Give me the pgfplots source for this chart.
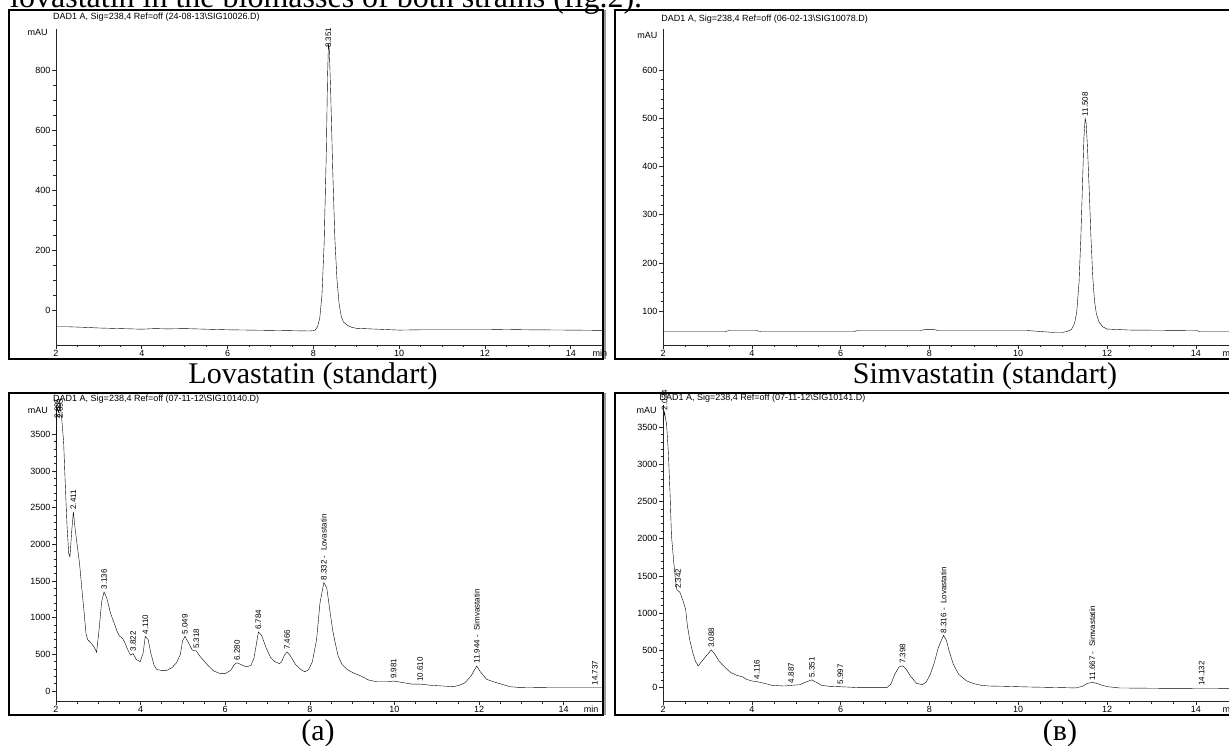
\documentclass[border=0pt]{standalone}
\usepackage{fontspec}
\setmainfont{Liberation Serif}
\newfontfamily\arial{Liberation Sans}
\newfontfamily\cambria{Liberation Serif}
\usepackage{pgfplots}
\pgfplotsset{compat=1.18}
\newcommand\chf{\arial\fontsize{9}{10}\selectfont}
\newcommand\pkf{\arial\fontsize{8}{9}\selectfont}
\newcommand\capf{\fontsize{30}{34}\selectfont}

\pgfplotsset{
  chromo/.style={
    scale only axis, anchor=south west,
    axis x line=bottom, axis y line=left,
    axis line style={-, line width=0.7pt, black!85},
    tick align=outside, major tick length=4pt, minor tick length=2.5pt,
    every tick/.style={black!85, line width=0.6pt},
    xtick={2,4,...,14}, minor x tick num=3,
    tick label style={font=\chf},
    xticklabel style={inner sep=1pt},
    yticklabel style={inner sep=1.5pt},
    /pgf/number format/assume math mode=true,
    /pgf/number format/1000 sep={},
    clip=false,
    cycle list={{black, line width=0.8pt, no marks}},
  },
}
\tikzset{lab/.style={rotate=90, anchor=west, font=\pkf, inner sep=1pt}}

\begin{document}
\begin{tikzpicture}[x=1pt,y=1pt]
\useasboundingbox (0,0) rectangle (1229,745);
\clip (0,0) rectangle (1229,745);

% running text, cut at the top
\node[anchor=base west, inner sep=0pt, font=\fontsize{32}{36}\selectfont] at (10,737) {lovastatin in the biomasses of both strains (fig.2).};

% frames
\draw[line width=1.1pt] (9,386) rectangle (603,735);
\draw[black!40, line width=1.6pt] (605,386) -- (605,735);
\draw[line width=1.1pt] (615,386) rectangle (1240,735);
\draw[line width=1.1pt] (9,30) rectangle (603,352);
\draw[black!40, line width=1.6pt] (605,30) -- (605,352);
\draw[line width=1.1pt] (615,30) rectangle (1240,352);

% captions
\node[anchor=base, font=\capf, inner sep=0pt] at (313,361) {Lovastatin (standart)};
\node[anchor=base, font=\capf, inner sep=0pt] at (985,361) {Simvastatin (standart)};
\node[anchor=base, font=\capf, inner sep=0pt] at (318,5) {(a)};
\node[anchor=base, font=\capf\cambria, inner sep=0pt] at (1060,5) {(в)};

% ---------- Lovastatin standard ----------
\begin{axis}[chromo, at={(56pt,400pt)}, width=546.1pt, height=316pt,
  xmin=2, xmax=14.73, ymin=-116.7, ymax=937,
  ytick={0,200,...,800}, minor y tick num=3]
\addplot coordinates {
  (2,-56) (2.3,-56) (2.7,-58) (3,-60) (3.5,-62) (4,-64) (4.3,-62) (4.6,-63)
  (5,-62) (5.5,-64) (6,-66) (6.5,-67) (7,-68) (7.5,-69) (7.9,-70) (8.0,-69)
  (8.05,-66) (8.1,-55) (8.15,-25) (8.2,50) (8.25,220) (8.3,520) (8.33,780)
  (8.351,885) (8.37,870) (8.4,740) (8.45,470) (8.5,240) (8.55,100) (8.6,20)
  (8.65,-22) (8.7,-40) (8.8,-52) (8.9,-58) (9,-61) (9.5,-64) (10,-67)
  (10.5,-66) (11,-66) (12,-66) (12.5,-65) (13,-66) (14,-67) (14.73,-68)};
\node[lab] at (axis cs:8.351,870) {8.351};
\node[font=\chf, anchor=north, inner sep=1pt] at (axis cs:14.68,-116.7) [yshift=-4pt] {min};
\node[font=\chf] at (axis cs:1.57,925) {mAU};
\node[font=\chf, anchor=west, inner sep=0pt] at (axis cs:1.93,975) {DAD1 A, Sig=238,4 Ref=off (24-08-13\textbackslash SIG10026.D)};
\end{axis}

% ---------- Simvastatin standard ----------
\begin{axis}[chromo, at={(663pt,400pt)}, width=577.2pt, height=316pt,
  xmin=2, xmax=15, ymin=30, ymax=685,
  ytick={100,200,...,600}, minor y tick num=4]
\addplot coordinates {
  (2,58) (3.4,58) (3.5,60) (4.1,60) (4.2,58) (6.3,58) (6.4,60) (7.8,60)
  (7.9,62) (8.1,62) (8.2,60) (10.2,60) (10.5,58) (10.8,56) (11.0,56)
  (11.1,58) (11.2,62) (11.27,75) (11.32,100) (11.37,160) (11.41,250)
  (11.45,370) (11.48,460) (11.508,500) (11.53,490) (11.56,440) (11.6,350)
  (11.64,250) (11.68,170) (11.72,120) (11.76,95) (11.82,78) (11.9,68)
  (12.0,63) (12.5,61) (14,60) (14.1,58) (15,58)};
\node[lab] at (axis cs:11.508,502) {11.508};
\node[font=\chf, anchor=north, inner sep=1pt] at (axis cs:14.77,30) [yshift=-4pt] {min};
\node[font=\chf] at (axis cs:1.65,672) {mAU};
\node[font=\chf, anchor=west, inner sep=0pt] at (axis cs:1.96,705) {DAD1 A, Sig=238,4 Ref=off (06-02-13\textbackslash SIG10078.D)};
\end{axis}

% ---------- (a) ----------
\begin{axis}[chromo, at={(56pt,44pt)}, width=545.7pt, height=296pt,
  xmin=2, xmax=14.9, ymin=-136, ymax=3902,
  ytick={0,500,...,3500}, minor y tick num=4]
\addplot coordinates {
  (2.0,3300) (2.02,3870) (2.06,3800) (2.10,3900) (2.14,3680) (2.18,3400)
  (2.22,2810) (2.26,2260) (2.30,1880) (2.33,1830) (2.37,2170) (2.411,2445)
  (2.45,2220) (2.51,1950) (2.56,1720) (2.61,1400) (2.66,1100) (2.71,780)
  (2.75,700) (2.82,660) (2.90,600) (2.96,530) (3.02,850) (3.08,1220)
  (3.136,1350) (3.2,1270) (3.29,1060) (3.36,950) (3.44,820) (3.50,750)
  (3.57,720) (3.62,670) (3.69,570) (3.76,490) (3.822,510) (3.90,430)
  (3.99,400) (4.06,520) (4.11,745) (4.18,700) (4.24,520) (4.32,350)
  (4.38,295) (4.48,282) (4.62,282) (4.74,318) (4.85,386) (4.94,500)
  (4.99,680) (5.049,745) (5.13,660) (5.22,560) (5.318,545) (5.40,477)
  (5.50,409) (5.59,350) (5.73,273) (5.87,241) (6.01,241) (6.13,282)
  (6.22,364) (6.28,386) (6.38,360) (6.50,330) (6.61,350) (6.68,450)
  (6.74,650) (6.784,805) (6.86,760) (6.96,600) (7.07,460) (7.17,400)
  (7.28,375) (7.33,395) (7.40,490) (7.466,532) (7.54,480) (7.66,364)
  (7.78,295) (7.88,262) (7.97,290) (8.06,400) (8.16,700) (8.24,1200)
  (8.332,1480) (8.40,1410) (8.47,1113) (8.54,832) (8.60,659) (8.67,477)
  (8.76,364) (8.88,295) (9.02,250) (9.21,205) (9.39,150) (9.58,127)
  (9.86,127) (9.981,136) (10.1,125) (10.23,112) (10.41,95) (10.61,95)
  (10.88,77) (11.16,68) (11.39,59) (11.53,77) (11.67,114) (11.81,205)
  (11.944,340) (12.04,255) (12.18,160) (12.36,123) (12.55,91) (12.73,59)
  (12.92,50) (13.66,45) (14.9,45)};
\node[lab] at (axis cs:2.035,3700) {2.035};
\node[lab] at (axis cs:2.095,3700) {2.095};
\node[lab] at (axis cs:2.411,2460) {2.411};
\node[lab] at (axis cs:3.136,1370) {3.136};
\node[lab] at (axis cs:3.822,525) {3.822};
\node[lab] at (axis cs:4.110,760) {4.110};
\node[lab] at (axis cs:5.049,760) {5.049};
\node[lab] at (axis cs:5.318,560) {5.318};
\node[lab] at (axis cs:6.280,400) {6.280};
\node[lab] at (axis cs:6.784,820) {6.784};
\node[lab] at (axis cs:7.466,545) {7.466};
\node[lab] at (axis cs:8.332,1495) {8.332 -~ Lovastatin};
\node[lab] at (axis cs:9.981,150) {9.981};
\node[lab] at (axis cs:10.610,110) {10.610};
\node[lab] at (axis cs:11.944,355) {11.944 -~ Simvastatin};
\node[lab] at (axis cs:14.737,60) {14.737};
\node[font=\chf, anchor=north, inner sep=1pt] at (axis cs:14.65,-136) [yshift=-4pt] {min};
\node[font=\chf] at (axis cs:1.57,3830) {mAU};
\node[font=\chf, anchor=west, inner sep=0pt] at (axis cs:1.93,3985) {DAD1 A, Sig=238,4 Ref=off (07-11-12\textbackslash SIG10140.D)};
\end{axis}

% ---------- (b) ----------
\begin{axis}[chromo, at={(663pt,44pt)}, width=577.2pt, height=296pt,
  xmin=2, xmax=15, ymin=-179, ymax=3794,
  ytick={0,500,...,3500}, minor y tick num=4]
\addplot coordinates {
  (2.0,3550) (2.034,3700) (2.06,3600) (2.08,3545) (2.12,3164) (2.16,2582)
  (2.19,2045) (2.24,1700) (2.28,1450) (2.31,1320) (2.342,1300) (2.38,1280)
  (2.44,1186) (2.51,1052) (2.55,828) (2.60,649) (2.67,470) (2.73,358)
  (2.79,291) (2.88,358) (2.97,425) (3.088,506) (3.17,448) (3.26,358)
  (3.40,269) (3.53,201) (3.66,166) (3.80,143) (3.88,112) (4.00,90)
  (4.116,81) (4.28,58) (4.46,31) (4.73,22) (4.887,31) (5.08,40) (5.22,76)
  (5.351,105) (5.44,76) (5.57,31) (5.75,18) (5.997,13) (6.42,0) (7.04,0)
  (7.13,45) (7.22,179) (7.32,282) (7.398,292) (7.48,246) (7.57,157)
  (7.71,58) (7.84,40) (7.93,76) (8.02,179) (8.11,336) (8.20,537)
  (8.316,703) (8.38,640) (8.45,479) (8.54,313) (8.66,179) (8.84,90)
  (9.00,54) (9.17,31) (9.35,22) (9.71,18) (10.24,9) (11.04,0) (11.3,-4)
  (11.45,20) (11.55,55) (11.667,72) (11.78,55) (11.9,30) (12.02,13)
  (12.28,-4) (13.26,-9) (15,-13)};
\node[lab] at (axis cs:2.034,3710) {2.034};
\node[lab] at (axis cs:2.342,1310) {2.342};
\node[lab] at (axis cs:3.088,520) {3.088};
\node[lab] at (axis cs:4.116,95) {4.116};
\node[lab] at (axis cs:4.887,45) {4.887};
\node[lab] at (axis cs:5.351,120) {5.351};
\node[lab] at (axis cs:5.997,28) {5.997};
\node[lab] at (axis cs:7.398,305) {7.398};
\node[lab] at (axis cs:8.316,715) {8.316 -~ Lovastatin};
\node[lab] at (axis cs:11.667,85) {11.667 -~ Simvastatin};
\node[lab] at (axis cs:14.132,10) {14.132};
\node[font=\chf, anchor=north, inner sep=1pt] at (axis cs:14.77,-179) [yshift=-4pt] {min};
\node[font=\chf] at (axis cs:1.63,3720) {mAU};
\node[font=\chf, anchor=west, inner sep=0pt] at (axis cs:1.92,3880) {DAD1 A, Sig=238,4 Ref=off (07-11-12\textbackslash SIG10141.D)};
\end{axis}
\end{tikzpicture}
\end{document}
